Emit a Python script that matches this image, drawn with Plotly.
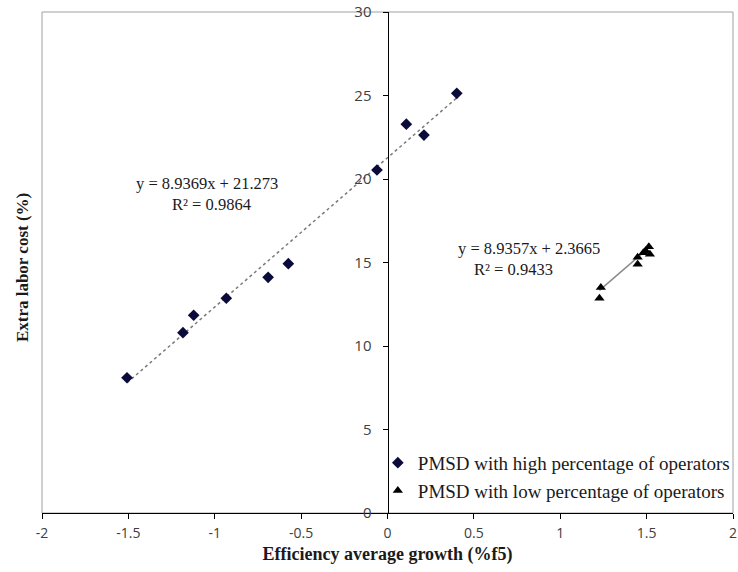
import plotly.graph_objects as go

# High percentage of operators (diamonds)
high_x = [-1.508, -1.184, -1.122, -0.933, -0.691, -0.574, -0.061, 0.109, 0.211, 0.401]
high_y = [8.10, 10.80, 11.84, 12.86, 14.11, 14.93, 20.54, 23.28, 22.63, 25.13]

# Low percentage of operators (triangles)
low_x = [1.235, 1.227, 1.448, 1.448, 1.481, 1.494, 1.513, 1.519]
low_y = [13.51, 12.86, 15.31, 14.89, 15.59, 15.71, 15.95, 15.49]

# Trend line coefficients (slope, intercept) as printed on the chart
high_fit = [8.9369, 21.273]
low_fit = [8.9357, 2.3665]

x_ticks = [-2, -1.5, -1, -0.5, 0, 0.5, 1, 1.5, 2]
y_ticks = [0, 5, 10, 15, 20, 25, 30]

serif = "Liberation Serif, Times New Roman, serif"
sans = "Open Sans, Liberation Sans, sans-serif"

fig = go.Figure()

hx = [min(high_x), max(high_x)]
fig.add_trace(go.Scatter(
    x=hx, y=[high_fit[0] * v + high_fit[1] for v in hx],
    mode="lines", line=dict(color="#7a7a7a", width=1.5, dash="dot"),
    showlegend=False, hoverinfo="skip"))
lx = [min(low_x), max(low_x)]
fig.add_trace(go.Scatter(
    x=lx, y=[low_fit[0] * v + low_fit[1] for v in lx],
    mode="lines", line=dict(color="#8a8a8a", width=1.5),
    showlegend=False, hoverinfo="skip"))

fig.add_trace(go.Scatter(
    x=high_x, y=high_y, mode="markers",
    name="PMSD with high percentage of operators",
    marker=dict(symbol="diamond", size=9, color="#0b0b3b")))
fig.add_trace(go.Scatter(
    x=low_x, y=low_y, mode="markers",
    name="PMSD with low percentage of operators",
    marker=dict(symbol="triangle-up", size=9, color="#000000")))


def px_x(p):
    return (p - 42) / 695.0


def px_y(p):
    return (513 - p) / 501.0


annots = [
    ("y = 8.9369x + 21.273", 208, 184),
    ("R² = 0.9864", 212, 204),
    ("y = 8.9357x + 2.3665", 532, 248),
    ("R² = 0.9433", 516, 269),
]
for t, ax, ay in annots:
    fig.add_annotation(x=px_x(ax), y=px_y(ay), xref="paper", yref="paper",
                       text=t, showarrow=False, xanchor="center", yanchor="middle",
                       font=dict(family=serif, size=16.5, color="#1a1a1a"))

fig.add_shape(type="rect", xref="paper", yref="paper", x0=0, x1=1, y0=0, y1=1,
              line=dict(color="#a0a0a0", width=1), layer="below")

fig.update_layout(
    width=738, height=572,
    margin=dict(l=42, r=1, t=12, b=59),
    paper_bgcolor="white", plot_bgcolor="white",
    xaxis=dict(range=[-2, 2], tickvals=x_ticks,
               ticktext=[("%g" % v) for v in x_ticks],
               showgrid=False, zeroline=False, showline=True,
               linecolor="#000000", linewidth=1, ticks="outside", ticklen=5,
               tickcolor="#000000", ticklabeloverflow="allow",
               ticklabelstandoff=2,
               tickfont=dict(family=sans, size=14, color="#404040"),
               title=dict(text="<b>Efficiency average growth (%f5)</b>",
                          font=dict(family=serif, size=18, color="#1a1a1a"),
                          standoff=6)),
    yaxis=dict(range=[0, 30], tickvals=y_ticks,
               showgrid=False, zeroline=False, showline=True,
               anchor="free", position=0.5,
               linecolor="#000000", linewidth=1, ticks="outside", ticklen=5,
               tickcolor="#000000", ticklabeloverflow="allow",
               ticklabelstandoff=8,
               tickfont=dict(family=sans, size=15, color="#404040")),
    legend=dict(x=0.486, y=0.138, xanchor="left", yanchor="top",
                bgcolor="rgba(0,0,0,0)", itemwidth=30,
                font=dict(family=serif, size=19, color="#1a1a1a"),
                tracegroupgap=2),
    showlegend=True,
)

fig.add_annotation(x=px_x(22), y=px_y(268), xref="paper", yref="paper",
                   text="<b>Extra labor cost (%)</b>", textangle=-90,
                   showarrow=False, xanchor="center", yanchor="middle",
                   font=dict(family=serif, size=17, color="#1a1a1a"))

fig.write_html("out.html",
               config={"displayModeBar": False},
               post_script="document.body.style.margin='0px';"
                           "document.body.style.overflow='hidden';")
